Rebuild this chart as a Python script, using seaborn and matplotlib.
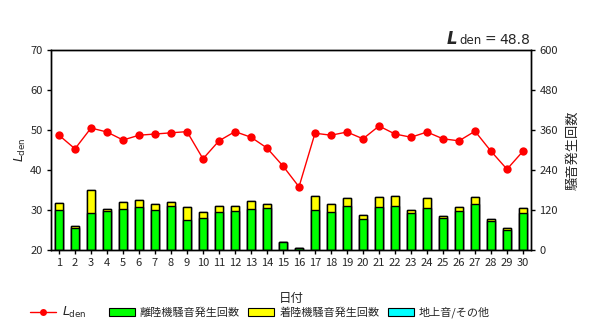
import matplotlib
matplotlib.use("Agg")
import matplotlib.pyplot as plt
from matplotlib.patches import Patch
from matplotlib.lines import Line2D
import seaborn as sns
import pandas as pd

sns.set_theme(style="white")
plt.rcParams["font.family"] = ["Noto Sans CJK JP", "DejaVu Sans"]
plt.rcParams["mathtext.fontset"] = "dejavusans"

days = list(range(1, 31))
lden = [48.7, 45.3, 50.5, 49.5, 47.5, 48.7, 49.0, 49.3, 49.6, 42.8,
        47.3, 49.6, 48.2, 45.5, 41.0, 35.8, 49.2, 48.7, 49.5, 47.8,
        51.0, 49.0, 48.2, 49.5, 47.8, 47.3, 49.7, 44.7, 40.2, 44.7]
takeoff = [119, 65, 110, 116, 122, 128, 119, 131, 89, 95,
           113, 116, 122, 125, 23, 5, 120, 114, 132, 93,
           129, 132, 111, 126, 96, 117, 138, 87, 60, 111]
landing = [21, 6, 69, 6, 21, 21, 18, 12, 39, 18,
           18, 15, 24, 12, 0, 0, 42, 24, 24, 12,
           30, 30, 9, 30, 6, 12, 21, 6, 6, 15]
ground = [0] * 30
lden_total = 48.8

df = pd.DataFrame({"day": days, "lden": lden, "takeoff": takeoff,
                   "landing": landing, "ground": ground})
df["tl"] = df["takeoff"] + df["landing"]
df["all"] = df["tl"] + df["ground"]

GREEN, YELLOW, CYAN, RED = "#00ff00", "#ffff00", "#00ffff", "#ff0000"

fig = plt.figure(figsize=(6.0, 3.29), dpi=100)
ax = fig.add_axes([0.085, 0.240, 0.80, 0.608])
ax2 = ax.twinx()

# stacked counts: draw cumulative totals back to front
for col, color in [("all", CYAN), ("tl", YELLOW), ("takeoff", GREEN)]:
    sns.barplot(data=df, x="day", y=col, native_scale=True, width=0.5,
                color=color, edgecolor="black", linewidth=1.0,
                saturation=1, ax=ax, errorbar=None)

sns.lineplot(data=df, x="day", y="lden", color=RED, marker="o",
             markersize=6, markeredgewidth=0, linewidth=1.0, ax=ax2)

# counts on the right, Lden on the left
ax.set_xlim(0.5, 30.5)
ax.set_ylim(0, 600)
ax.set_yticks(range(0, 601, 120))
ax.yaxis.tick_right()
ax.yaxis.set_label_position("right")
ax.set_ylabel("騒音発生回数", fontsize=9.5, rotation=90, labelpad=6)
ax.set_xticks(days)
ax.set_xticklabels([str(d) for d in days])
ax.set_xlabel("日付", fontsize=9, labelpad=17)

ax2.set_ylim(20, 70)
ax2.set_yticks(range(20, 71, 10))
ax2.yaxis.tick_left()
ax2.yaxis.set_label_position("left")
ax2.set_ylabel(r"$L_{\rm den}$", fontsize=9, labelpad=2)
ax2.set_xlim(0.5, 30.5)

for a in (ax, ax2):
    for s in a.spines.values():
        s.set_color("black")
        s.set_linewidth(1.0)
    a.tick_params(axis="both", which="major", length=3, width=1,
                  color="black", labelsize=8, pad=3, direction="out")
ax.tick_params(axis="y", left=False, right=True, labelleft=False,
               labelright=True)
ax2.tick_params(axis="y", left=True, right=False, labelleft=True,
                labelright=False)
ax.tick_params(axis="x", bottom=True)

# overall Lden note above the right corner
fig.text(0.745, 0.866, "L", fontsize=12, fontstyle="italic",
         fontweight="bold", family="DejaVu Sans", ha="left", va="baseline")
fig.text(0.766, 0.866, "den", fontsize=8.5, family="DejaVu Sans",
         ha="left", va="baseline")
fig.text(0.808, 0.866, "=", fontsize=10, family="DejaVu Sans",
         ha="left", va="baseline")
fig.text(0.833, 0.866, f"{lden_total}", fontsize=10, family="DejaVu Sans",
         ha="left", va="baseline")

line_handle = Line2D([0], [0], color=RED, marker="o", markersize=5,
                     markeredgewidth=0, linewidth=1.0)
patch_handles = [Patch(facecolor=c, edgecolor="black", linewidth=0.8)
                 for c in (GREEN, YELLOW, CYAN)]
patch_labels = ["離陸機騒音発生回数", "着陸機騒音発生回数", "地上音/その他"]

fig.legend([line_handle], [r"$L_{\rm den}$"], loc="center left",
           bbox_to_anchor=(0.05, 0.05), frameon=False, fontsize=9,
           handlelength=2.1, handletextpad=0.5, borderpad=0, borderaxespad=0)
fig.legend(patch_handles, patch_labels, loc="center left",
           bbox_to_anchor=(0.181, 0.05), ncol=3, frameon=False, fontsize=8,
           handlelength=2.35, handleheight=0.8, columnspacing=0.75,
           handletextpad=0.45, borderpad=0, borderaxespad=0)

fig.savefig("out.png", dpi=100, facecolor="white")
